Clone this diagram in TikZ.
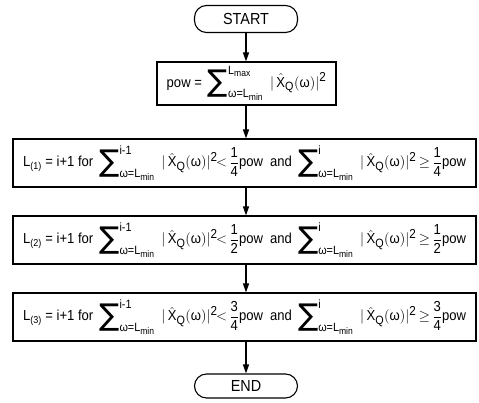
\documentclass[tikz,border=0pt]{standalone}
\usepackage{amsmath}
\usepackage{fontspec}
\setmainfont[FakeStretch=0.9]{Liberation Sans}
\newfontfamily\symfont{DejaVu Sans}
\usetikzlibrary{arrows.meta}
\DeclareMathSizes{14.5}{14.5}{12}{9.5}
\newcommand\fs[1]{\fontsize{#1}{#1}\selectfont}
\newcommand\bigsig{\mathop{\vcenter{\hbox{\symfont\fs{30}∑}}}\nolimits}
\newcommand\xq{\;|\,\hat{\text{X}}_{\text{Q}}(\text{ω})|^{\text{\fs{13}2}}}
\newcommand\lmin{\text{ω=L}_{\text{min}}}
\newcommand\lfml[3]{$\displaystyle \text{L}_{\text{\fs{10}(#1)}} \text{ = i+1 for } \bigsig_{\lmin}^{\text{i-1}}\xq\mkern-2mu{<}\,\frac{\text{#2}}{\text{#3}}\text{pow\ \ and }\bigsig_{\lmin}^{\text{i}}\xq\,{\geq}\,\frac{\text{#2}}{\text{#3}}\text{pow}$}
\begin{document}
\begin{tikzpicture}[x=1pt,y=-1pt,
  every node/.style={font=\fs{14.5}, inner sep=0pt},
  term/.style={draw, line width=1.1pt, rounded corners=12pt, minimum width=103pt, font=\fs{16}},
  proc/.style={draw, line width=1.1pt},
  conn/.style={line width=1.1pt, -{Triangle[length=9pt,width=6pt]}}]
\useasboundingbox (0,0) rectangle (479,403);
\node[term, minimum height=27pt] (start) at (246,19) {START};
\node[proc, minimum width=179pt, minimum height=43pt] (pow) at (246.5,83.5)
  {$\displaystyle \text{pow = }\bigsig_{\lmin}^{\text{L}_{\text{max}}}\xq$};
\node[proc, minimum width=463pt, minimum height=48pt] (b1) at (244.5,163) {\lfml{1}{1}{4}};
\node[proc, minimum width=463pt, minimum height=48pt] (b2) at (244.5,240) {\lfml{2}{1}{2}};
\node[proc, minimum width=463pt, minimum height=48pt] (b3) at (244.5,317) {\lfml{3}{3}{4}};
\node[term, minimum height=24pt] (end) at (246,386) {END};
\draw[conn] (start.south) -- (start.south |- pow.north);
\draw[conn] (start.south |- pow.south) -- (start.south |- b1.north);
\draw[conn] (start.south |- b1.south) -- (start.south |- b2.north);
\draw[conn] (start.south |- b2.south) -- (start.south |- b3.north);
\draw[conn] (start.south |- b3.south) -- (end.north);
\end{tikzpicture}
\end{document}
